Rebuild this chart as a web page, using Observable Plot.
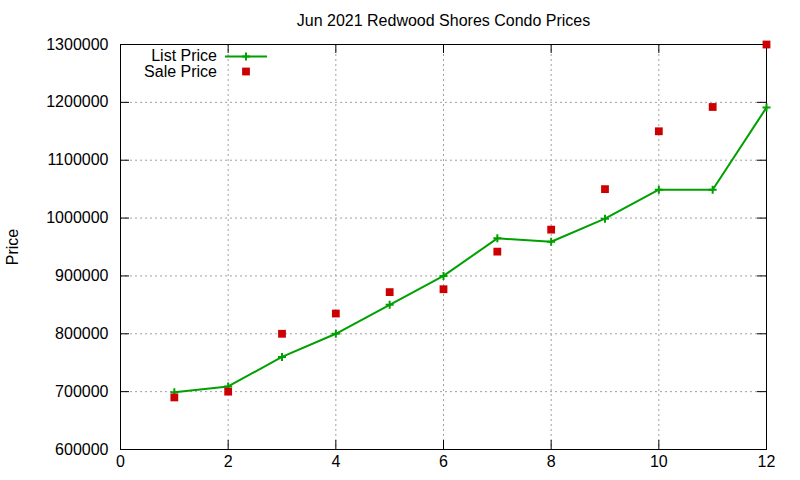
<!DOCTYPE html>
<html>
<head>
<meta charset="utf-8">
<script src="https://cdn.jsdelivr.net/npm/d3@7"></script>
<script src="https://cdn.jsdelivr.net/npm/@observablehq/plot@0.6"></script>
<style>
  html, body { margin: 0; padding: 0; background: white; }
  #wrap { position: relative; width: 800px; height: 480px; }
  #legend { position: absolute; left: 0; top: 0; pointer-events: none; }
</style>
</head>
<body>
<div id="wrap"></div>
<script>
const months = [1, 2, 3, 4, 5, 6, 7, 8, 9, 10, 11, 12];
const listPrice = [699000, 709000, 760000, 800000, 850000, 900000, 965000, 959000, 999000, 1049000, 1049000, 1191000];
const salePrice = [690000, 700000, 800000, 835000, 872000, 877000, 942000, 980000, 1050000, 1150000, 1192000, 1300000];
const xTicks = [0, 2, 4, 6, 8, 10, 12];
const yTicks = [600000, 700000, 800000, 900000, 1000000, 1100000, 1200000, 1300000];
const titleText = "Jun 2021 Redwood Shores Condo Prices";
const yLabel = "Price";
const seriesNames = ["List Price", "Sale Price"];

const green = "#00a000";
const red = "#cc0000";
const W = 800, H = 480, mL = 120, mR = 34, mT = 44, mB = 31;
const fw = W - mL - mR, fh = H - mT - mB, tk = 9;
const plusR = 2.7, sqR = 4.4;

const data = months.map((m, i) => ({m, list: listPrice[i], sale: salePrice[i]}));
const gridStyle = {stroke: "#a0a0a0", strokeOpacity: 1, strokeWidth: 1, strokeDasharray: "2,3"};

const chart = Plot.plot({
  width: W, height: H,
  marginLeft: mL, marginRight: mR, marginTop: mT, marginBottom: mB,
  style: {fontFamily: "'Liberation Sans', Arial, sans-serif", fontSize: "16px", background: "white", color: "black"},
  x: {domain: [0, 12]},
  y: {domain: [600000, 1300000]},
  marks: [
    Plot.gridX(xTicks.slice(1, -1), gridStyle),
    Plot.gridY(yTicks.slice(1, -1), gridStyle),
    Plot.axisX(xTicks, {tickSize: 0, tickPadding: 6, tickFormat: d => String(d), label: null, fontSize: 16}),
    Plot.axisY(yTicks, {tickSize: 0, tickPadding: 12, tickFormat: d => String(d), label: null, fontSize: 16}),
    Plot.tickY(yTicks, {y: d => d, insetRight: fw - tk, stroke: "black"}),
    Plot.tickY(yTicks, {y: d => d, insetLeft: fw - tk, stroke: "black"}),
    Plot.tickX(xTicks, {x: d => d, insetTop: fh - tk, stroke: "black"}),
    Plot.tickX(xTicks, {x: d => d, insetBottom: fh - tk, stroke: "black"}),
    Plot.frame({stroke: "black"}),
    Plot.line(data, {x: "m", y: "list", stroke: green, strokeWidth: 2}),
    Plot.dot(data, {x: "m", y: "list", symbol: "plus", stroke: green, strokeWidth: 2, r: plusR}),
    Plot.dot(data, {x: "m", y: "sale", symbol: "square", fill: red, stroke: "none", r: sqR}),
    Plot.text([titleText], {text: d => d, frameAnchor: "top", lineAnchor: "middle", dy: -24, fontSize: 16, fill: "black"}),
    Plot.text([yLabel], {text: d => d, frameAnchor: "left", textAnchor: "middle", dx: -108, rotate: -90, fontSize: 16, fill: "black"})
  ]
});
document.getElementById("wrap").appendChild(chart);

// legend overlay
const leg = d3.select("#wrap").append("svg")
  .attr("id", "legend").attr("width", W).attr("height", 100)
  .style("font-family", "'Liberation Sans', Arial, sans-serif").style("font-size", "16px");
leg.append("text").attr("x", 217).attr("y", 55).attr("text-anchor", "end").attr("dy", "0.35em").text(seriesNames[0]);
leg.append("text").attr("x", 217).attr("y", 71).attr("text-anchor", "end").attr("dy", "0.35em").text(seriesNames[1]);
leg.append("line").attr("x1", 225).attr("x2", 267).attr("y1", 56.5).attr("y2", 56.5).attr("stroke", green).attr("stroke-width", 2);
leg.append("path").attr("transform", "translate(246,56.5)").attr("d", d3.symbol(d3.symbolPlus, Math.PI * plusR * plusR)()).attr("stroke", green).attr("stroke-width", 2).attr("fill", "none");
leg.append("path").attr("transform", "translate(246,71.5)").attr("d", d3.symbol(d3.symbolSquare, Math.PI * sqR * sqR)()).attr("fill", red);
</script>
</body>
</html>
